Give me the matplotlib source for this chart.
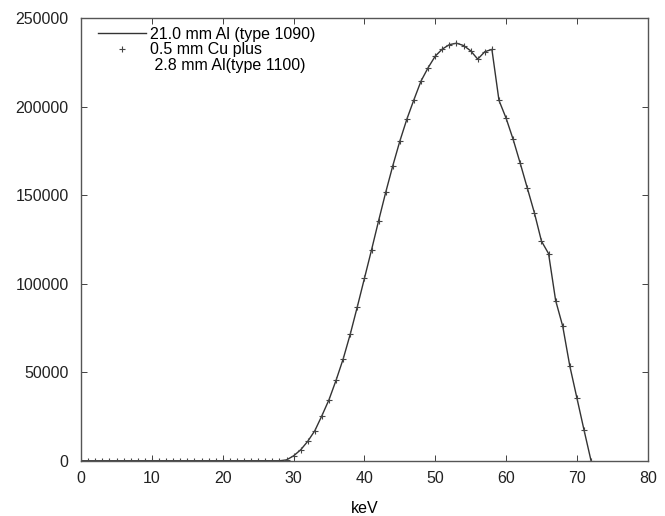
import matplotlib.pyplot as plt
from matplotlib.lines import Line2D
import numpy as np

plt.rcParams['font.family'] = ['Liberation Sans', 'DejaVu Sans']

kev = np.arange(0, 73)
# 21.0 mm Al (type 1090) spectrum
al_counts = [0] * 29 + [
    500, 2800, 6200, 11000, 17000, 25500, 34500, 45500, 57500, 71500,   # 29-38
    87000, 103000, 119000, 135500, 151500, 166500, 180500, 193000, 204000, 214500,  # 39-48
    222000, 228500, 232500, 235000, 235800, 234500, 231500, 226800, 231000, 232300,  # 49-58
    203500, 193500, 181500, 168000, 154000, 140000, 124000, 117000, 90500, 76000,  # 59-68
    53500, 35500, 17500, 0,  # 69-72
]
# 0.5 mm Cu plus 2.8 mm Al (type 1100): points lie on the same curve
cu_counts = list(al_counts)

fig = plt.figure(figsize=(6.65, 5.16), dpi=100)
ax = fig.add_axes([0.122, 0.107, 0.852, 0.858])

line, = ax.plot(kev, al_counts, color='#333333', lw=1.0)
pts, = ax.plot(kev, cu_counts, ls='none', marker='+', ms=4, mew=0.8, color='#444444')

ax.set_xlim(0, 80)
ax.set_ylim(0, 250000)
ax.set_xticks(np.arange(0, 81, 10))
ax.set_yticks(np.arange(0, 250001, 50000))
ax.tick_params(direction='in', top=True, right=True, length=4, width=0.6,
               labelsize=11.5, colors='#222222')
ax.tick_params(axis='y', pad=9)
ax.tick_params(axis='x', pad=7)
for s in ax.spines.values():
    s.set_color('#555555')
    s.set_linewidth(1.0)
ax.set_xlabel('keV', fontsize=11.5, labelpad=11)

blank = Line2D([], [], ls='none')
ax.legend([line, pts, blank],
          ['21.0 mm Al (type 1090)', '0.5 mm Cu plus', ' 2.8 mm Al(type 1100)'],
          loc='upper left', frameon=False, fontsize=11.5, handlelength=3.0,
          handletextpad=0.3, labelspacing=0.05, borderaxespad=0.0,
          bbox_to_anchor=(0.018, 0.995))

fig.savefig('out.png', dpi=100)
